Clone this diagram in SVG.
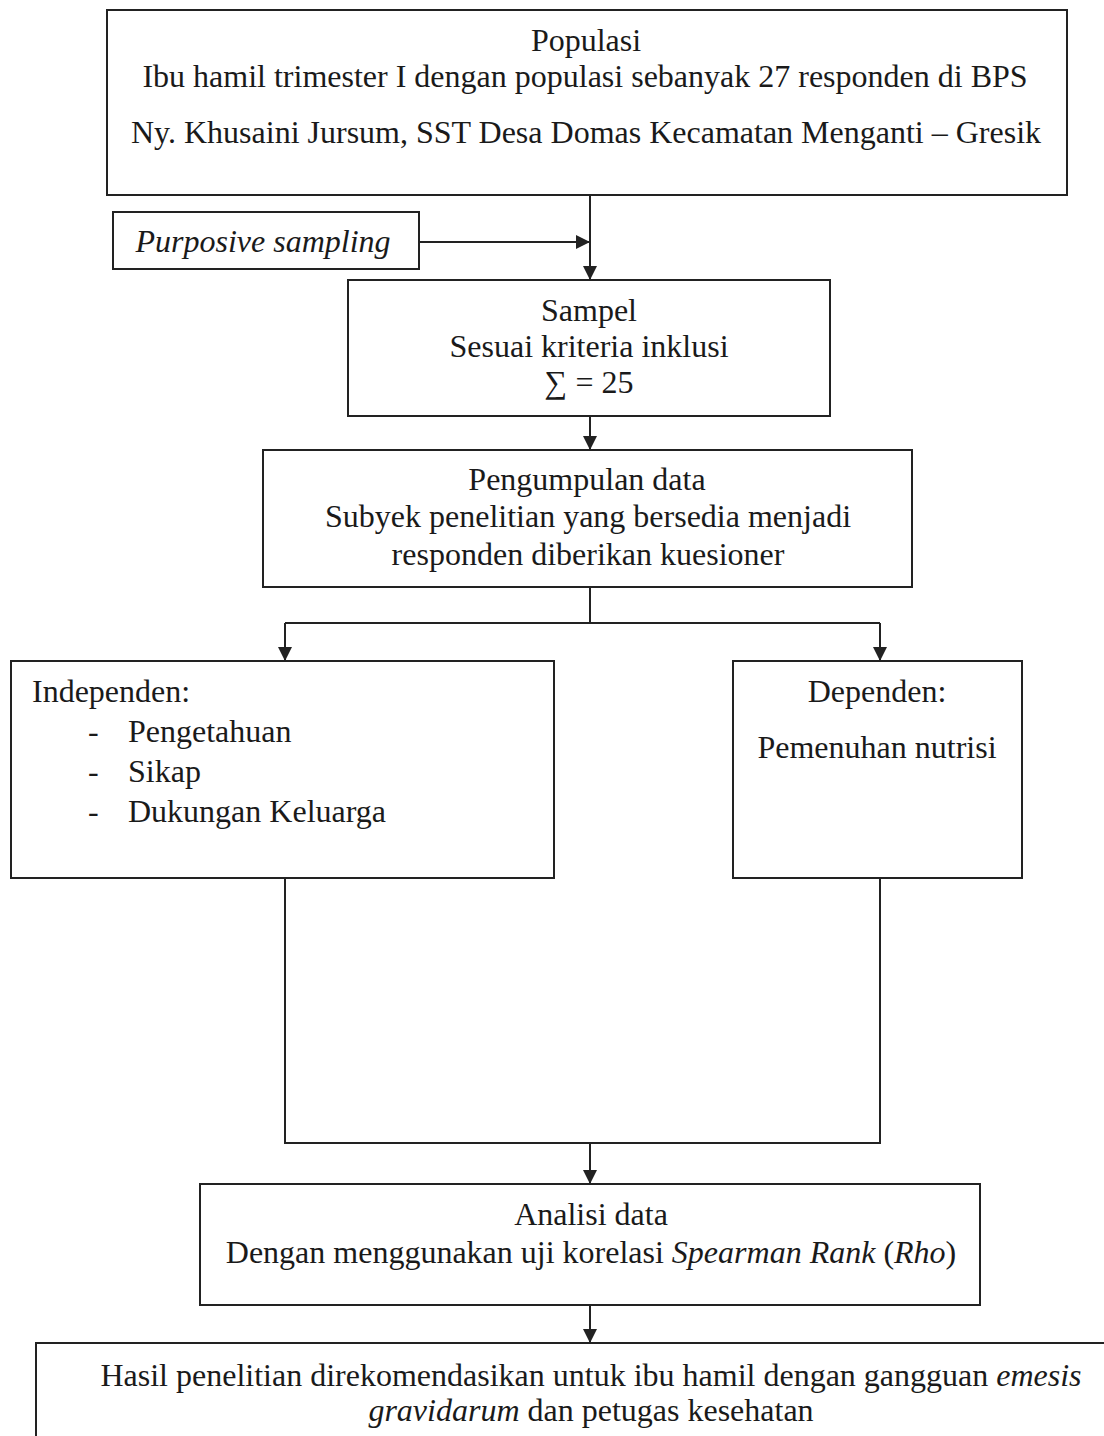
<svg xmlns="http://www.w3.org/2000/svg" width="1104" height="1436" viewBox="0 0 1104 1436">
<style>
.box{fill:#fff;stroke:#222;stroke-width:2}
.ln{fill:none;stroke:#222;stroke-width:2}
text{font-family:"Liberation Serif","Times New Roman",serif;font-size:32px;fill:#1a1a1a}
.c{text-anchor:middle}
.i{font-style:italic}
</style>
<defs>
<marker id="ah" markerWidth="14" markerHeight="16" refX="14" refY="8" orient="auto" markerUnits="userSpaceOnUse">
<path d="M0,1 L14,8 L0,15 Z" fill="#222"/>
</marker>
</defs>
<rect width="1104" height="1436" fill="#fff"/>
<g id="connectors">
<line class="ln" x1="590" y1="195" x2="590" y2="280" marker-end="url(#ah)"/>
<line class="ln" x1="419" y1="242" x2="590" y2="242" marker-end="url(#ah)"/>
<line class="ln" x1="590" y1="416" x2="590" y2="450" marker-end="url(#ah)"/>
<line class="ln" x1="590" y1="587" x2="590" y2="623"/>
<line class="ln" x1="285" y1="623" x2="880" y2="623"/>
<line class="ln" x1="285" y1="623" x2="285" y2="661" marker-end="url(#ah)"/>
<line class="ln" x1="880" y1="623" x2="880" y2="661" marker-end="url(#ah)"/>
<polyline class="ln" points="285,878 285,1143 880,1143 880,878"/>
<line class="ln" x1="590" y1="1143" x2="590" y2="1184" marker-end="url(#ah)"/>
<line class="ln" x1="590" y1="1305" x2="590" y2="1343" marker-end="url(#ah)"/>
</g>
<g id="populasi">
<rect class="box" x="107" y="10" width="960" height="185"/>
<text class="c" x="586" y="51">Populasi</text>
<text class="c" x="585" y="87">Ibu hamil trimester I dengan populasi sebanyak 27 responden di BPS</text>
<text class="c" x="586" y="143">Ny. Khusaini Jursum, SST Desa Domas Kecamatan Menganti – Gresik</text>
</g>
<g id="purposive">
<rect class="box" x="113" y="212" width="306" height="57"/>
<text class="c i" x="263" y="252">Purposive sampling</text>
</g>
<g id="sampel">
<rect class="box" x="348" y="280" width="482" height="136"/>
<text class="c" x="589" y="321">Sampel</text>
<text class="c" x="589" y="357">Sesuai kriteria inklusi</text>
<text class="c" x="589" y="393">∑ = 25</text>
</g>
<g id="pengumpulan">
<rect class="box" x="263" y="450" width="649" height="137"/>
<text class="c" x="587" y="490">Pengumpulan data</text>
<text class="c" x="588" y="527">Subyek penelitian yang bersedia menjadi</text>
<text class="c" x="588" y="565">responden diberikan kuesioner</text>
</g>
<g id="independen">
<rect class="box" x="11" y="661" width="543" height="217"/>
<text x="32" y="702">Independen:</text>
<text x="88" y="742">-</text>
<text x="128" y="742">Pengetahuan</text>
<text x="88" y="782">-</text>
<text x="128" y="782">Sikap</text>
<text x="88" y="822">-</text>
<text x="128" y="822">Dukungan Keluarga</text>
</g>
<g id="dependen">
<rect class="box" x="733" y="661" width="289" height="217"/>
<text class="c" x="877" y="702">Dependen:</text>
<text class="c" x="877" y="758">Pemenuhan nutrisi</text>
</g>
<g id="analisi">
<rect class="box" x="200" y="1184" width="780" height="121"/>
<text class="c" x="591" y="1225">Analisi data</text>
<text class="c" x="591" y="1263">Dengan menggunakan uji korelasi <tspan class="i">Spearman Rank</tspan> (<tspan class="i">Rho</tspan>)</text>
</g>
<g id="hasil">
<rect class="box" x="36" y="1343" width="1090" height="120"/>
<text class="c" x="591" y="1386">Hasil penelitian direkomendasikan untuk ibu hamil dengan gangguan <tspan class="i">emesis</tspan></text>
<text class="c" x="591" y="1421"><tspan class="i">gravidarum</tspan> dan petugas kesehatan</text>
</g>
</svg>
